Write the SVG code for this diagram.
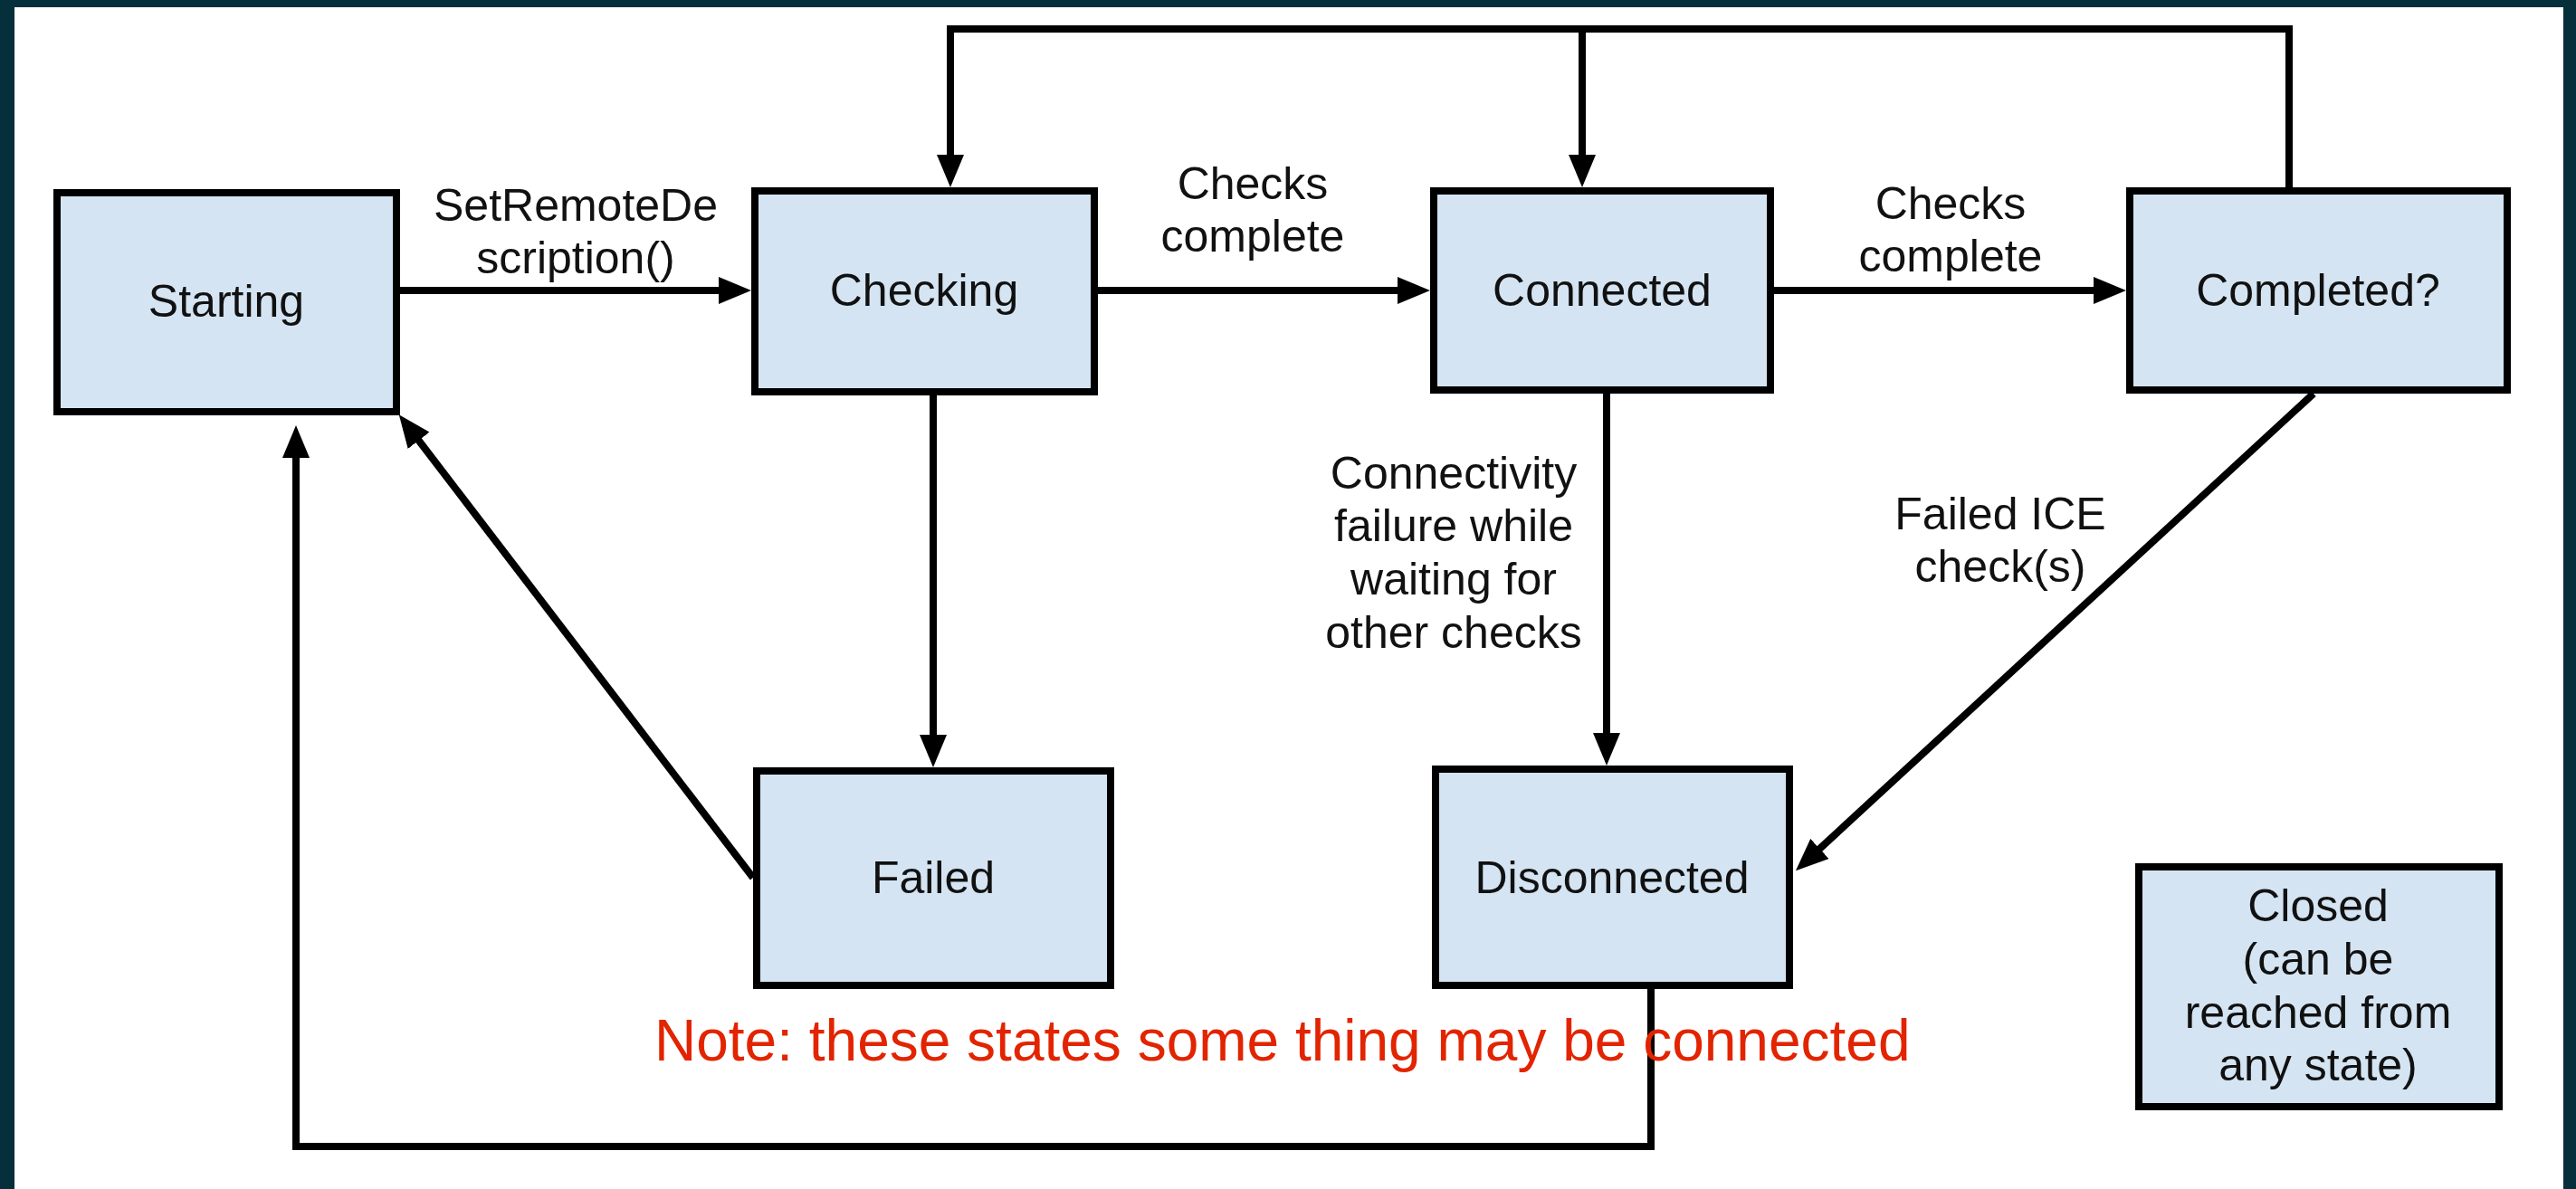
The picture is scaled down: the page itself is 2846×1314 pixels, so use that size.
<svg xmlns="http://www.w3.org/2000/svg" width="2846" height="1314" viewBox="0 0 2846 1314">
  <style>
    .frame { fill: #062f3c; }
    .panel { fill: #ffffff; }
    .state rect { fill: #d4e4f2; stroke: #000; stroke-width: 8; }
    .state text, .label { font-family: "Liberation Sans", Arial, sans-serif; font-size: 50px; fill: #111; text-anchor: middle; }
    .edge { fill: none; stroke: #000; stroke-width: 8; stroke-linejoin: miter; marker-end: url(#arrow); }
    .plain { fill: none; stroke: #000; stroke-width: 8; }
    .note { font-family: "Liberation Sans", Arial, sans-serif; font-size: 64px; fill: #e22400; }
  </style>
  <defs>
    <marker id="arrow" markerUnits="userSpaceOnUse" markerWidth="36" markerHeight="30" refX="6" refY="15" orient="auto" viewBox="0 0 36 30">
      <path d="M0,0 L36,15 L0,30 z" fill="#000"/>
    </marker>
  </defs>

  <!-- dark page frame around the white drawing area -->
  <rect class="frame" x="0" y="0" width="2846" height="1314"/>
  <rect class="panel" x="16" y="8" width="2816" height="1306"/>

  <!-- transitions -->
  <g id="connectors">
    <path class="edge" d="M442,321 H800"/>
    <path class="edge" d="M1213,321 H1550"/>
    <path class="edge" d="M1960,321 H2319"/>
    <!-- loop from Completed? back over the top -->
    <path class="edge" d="M2529,207 V32 H1050 V177"/>
    <path class="edge" d="M1748,32 V177"/>
    <path class="edge" d="M1031,437 V818"/>
    <path class="edge" d="M1775,435 V816"/>
    <path class="edge" d="M2556,435 L2006,942"/>
    <path class="edge" d="M832,970 L459,482"/>
    <path class="edge" d="M1824,1093 V1267 H327 V500"/>

    <text class="label" x="636" y="244">SetRemoteDe</text>
    <text class="label" x="636" y="302">scription()</text>
    <text class="label" x="1384" y="220">Checks</text>
    <text class="label" x="1384" y="278">complete</text>
    <text class="label" x="2155" y="242">Checks</text>
    <text class="label" x="2155" y="300">complete</text>
    <text class="label" x="1606" y="540">Connectivity</text>
    <text class="label" x="1606" y="598">failure while</text>
    <text class="label" x="1606" y="657">waiting for</text>
    <text class="label" x="1606" y="716">other checks</text>
    <text class="label" x="2210" y="585">Failed ICE</text>
    <text class="label" x="2210" y="643">check(s)</text>
  </g>

  <g id="starting" class="state">
    <rect x="63" y="213" width="375" height="242"/>
    <text x="250" y="350">Starting</text>
  </g>
  <g id="checking" class="state">
    <rect x="834" y="211" width="375" height="222"/>
    <text x="1021" y="338">Checking</text>
  </g>
  <g id="connected" class="state">
    <rect x="1584" y="211" width="372" height="220"/>
    <text x="1770" y="338">Connected</text>
  </g>
  <g id="completed" class="state">
    <rect x="2353" y="211" width="417" height="220"/>
    <text x="2561" y="338">Completed?</text>
  </g>
  <g id="failed" class="state">
    <rect x="836" y="852" width="391" height="237"/>
    <text x="1031" y="987">Failed</text>
  </g>
  <g id="disconnected" class="state">
    <rect x="1586" y="850" width="391" height="239"/>
    <text x="1781" y="987">Disconnected</text>
  </g>
  <g id="closed" class="state">
    <rect x="2363" y="958" width="398" height="265"/>
    <text x="2561" y="1018">Closed</text>
    <text x="2561" y="1077">(can be</text>
    <text x="2561" y="1136">reached from</text>
    <text x="2561" y="1194">any state)</text>
  </g>

  <text class="note" x="723" y="1172">Note: these states some thing may be connected</text>
</svg>
